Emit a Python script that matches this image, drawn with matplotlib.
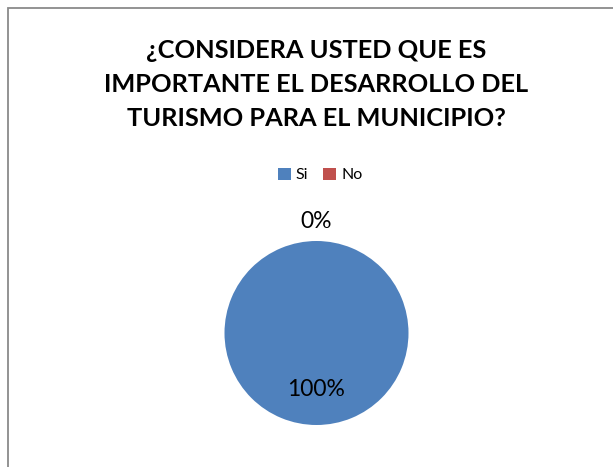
import matplotlib
matplotlib.use("Agg")
import matplotlib.pyplot as plt
from matplotlib.patches import Rectangle

plt.rcParams['font.family'] = ['Lato', 'DejaVu Sans']

title_lines = ["¿CONSIDERA USTED QUE ES",
               "IMPORTANTE EL DESARROLLO DEL",
               "TURISMO PARA EL MUNICIPIO?"]
categories = ["Si", "No"]
values = [100, 0]
colors = ["#4F81BD", "#C0504D"]

W, H = 613, 467
fig = plt.figure(figsize=(W / 100, H / 100), dpi=100)
fig.patch.set_facecolor("white")

# border (chart area frame, right/bottom cut off)
fig.patches.append(Rectangle((7.5 / W, -0.1), 1.2, (H - 7.5) / H + 0.1,
                             transform=fig.transFigure, fill=False,
                             edgecolor="#8a8a8a", linewidth=1.3))

# title
for y, line in zip([50, 84, 119], title_lines):
    fig.text(316 / W, 1 - y / H, line, ha="center", va="center",
             fontsize=18.3, fontweight="bold", color="black")

# pie
cx, cy, r = 316.5, 333, 92
ax = fig.add_axes([(cx - r) / W, (H - cy - r) / H, 2 * r / W, 2 * r / H])
wedges, texts, autotexts = ax.pie(values, colors=colors, startangle=90,
                                  counterclock=False, autopct="%1.0f%%",
                                  pctdistance=0.61, radius=1,
                                  wedgeprops=dict(linewidth=0),
                                  textprops=dict(fontsize=16.5, color="black"))
ax.set_xlim(-1, 1)
ax.set_ylim(-1, 1)
ax.set_aspect("equal")
for t in autotexts:
    t.set_clip_on(False)
# zero slice label sits outside the pie
x0, y0 = autotexts[1].get_position()
autotexts[1].set_position((x0 * 1.21 / 0.61, y0 * 1.21 / 0.61))

fig.legend(wedges, categories, loc="center", bbox_to_anchor=(320 / W, 1 - 175 / H),
           ncol=2, frameon=False, fontsize=11.5, handlelength=0.85,
           handleheight=0.85, handletextpad=0.3, columnspacing=0.9,
           borderaxespad=0)

fig.savefig("out.png", dpi=100)
